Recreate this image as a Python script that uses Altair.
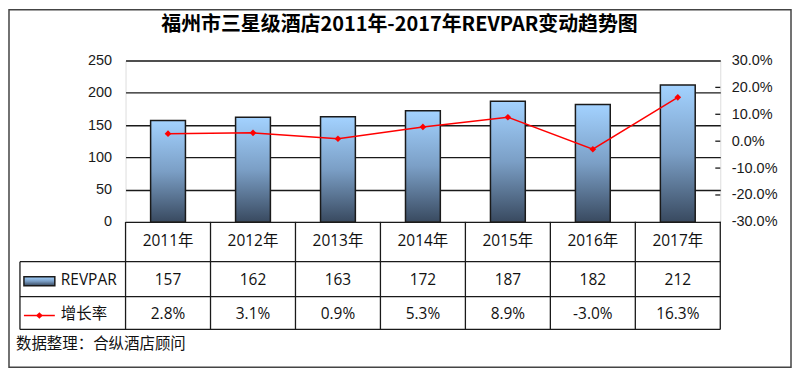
import altair as alt
import pandas as pd

# ---- data ----
years = ["2011年", "2012年", "2013年", "2014年", "2015年", "2016年", "2017年"]
revpar = [157, 162, 163, 172, 187, 182, 212]
growth_pct = [2.8, 3.1, 0.9, 5.3, 8.9, -3.0, 16.3]
left_ticks = [0, 50, 100, 150, 200, 250]
right_ticks = [-0.3, -0.2, -0.1, 0.0, 0.1, 0.2, 0.3]
inner_ticks = [-0.2, -0.1, 0.0, 0.1, 0.2]
title_text = "福州市三星级酒店2011年-2017年REVPAR变动趋势图"
footer_text = "数据整理：合纵酒店顾问"
series_bar = "REVPAR"
series_line = "增长率"

df = pd.DataFrame({
    "year": years,
    "revpar": revpar,
    "growth": [g / 100 for g in growth_pct],
    "growth_label": [f"{g:.1f}%" for g in growth_pct],
})
tick_df = pd.DataFrame({"t": inner_ticks})
one = pd.DataFrame({"k": [0]})

W, H = 597, 162
ROW1, ROW2, ROW3 = 202, 237, 270   # table horizontal lines (px below plot top)
LEFT = -106                         # legend column left edge
LINE = "#1a1a1a"

grad = alt.Gradient(
    gradient="linear",
    stops=[alt.GradientStop(color="#a3d2ff", offset=0),
           alt.GradientStop(color="#7b9fc6", offset=0.5),
           alt.GradientStop(color="#394a60", offset=1)],
    x1=0, x2=0, y1=0, y2=1,
)

xenc = alt.X("year:N", sort=years, axis=None,
             scale=alt.Scale(paddingInner=0, paddingOuter=0))

base = alt.Chart(df).encode(x=xenc)

bars = base.mark_bar(width=alt.RelativeBandSize(0.41), fill=grad,
                     stroke=LINE, strokeWidth=1.5).encode(
    y=alt.Y("revpar:Q", scale=alt.Scale(domain=[0, 250], nice=False),
            axis=alt.Axis(values=left_ticks, grid=True, gridColor=LINE,
                          gridWidth=1.3, domain=False, ticks=False,
                          labelPadding=14, labelFont="Liberation Sans",
                          labelFontSize=14.5, labelColor="#1a1a1a", title=None))
)

line = base.mark_line(color="#ff0000", strokeWidth=1.5,
                      point=alt.OverlayMarkDef(shape="diamond", size=45,
                                               color="#ff0000", filled=True)).encode(
    y=alt.Y("growth:Q", scale=alt.Scale(domain=[-0.3, 0.3], nice=False),
            axis=alt.Axis(orient="right", values=right_ticks, grid=False,
                          domain=False, ticks=False, labelPadding=11,
                          labelExpr="replace(format(datum.value, '.1%'), '\u2212', '-')",
                          labelFont="Liberation Sans", labelFontSize=14.5,
                          labelColor="#1a1a1a", title=None))
)

rticks = alt.Chart(tick_df).mark_rule(color=LINE, strokeWidth=1.3).encode(
    y=alt.Y("t:Q", scale=alt.Scale(domain=[-0.3, 0.3], nice=False), axis=None),
    x=alt.value(W - 5), x2=alt.value(W),
)

def hrule(y, x0):
    return alt.Chart(one).mark_rule(color=LINE, strokeWidth=1.3).encode(
        x=alt.value(x0), x2=alt.value(W), y=alt.value(y))

vrules = alt.Chart(df).mark_rule(color=LINE, strokeWidth=1.3).encode(
    x=alt.X("year:N", sort=years, axis=None, bandPosition=0,
            scale=alt.Scale(paddingInner=0, paddingOuter=0)),
    y=alt.value(H), y2=alt.value(ROW3))
vright = alt.Chart(one).mark_rule(color=LINE, strokeWidth=1.3).encode(
    x=alt.value(W), y=alt.value(H), y2=alt.value(ROW3))
vleft = alt.Chart(one).mark_rule(color=LINE, strokeWidth=1.3).encode(
    x=alt.value(LEFT), y=alt.value(ROW1), y2=alt.value(ROW3))

TFONT = "Open Sans, Noto Sans CJK SC"
def table_text(field, y):
    return base.mark_text(font=TFONT, fontSize=15.5, color="#111",
                          baseline="middle").encode(text=field, y=alt.value(y))

hdr = table_text("year:N", 181)
vals = table_text("revpar:Q", 220)
pcts = table_text("growth_label:N", 254)

leg_rect = alt.Chart(one).mark_rect(fill=grad, stroke=LINE, strokeWidth=1.5).encode(
    x=alt.value(-102), x2=alt.value(-71), y=alt.value(217), y2=alt.value(226))
leg_line = alt.Chart(one).mark_rule(color="#ff0000", strokeWidth=1.5).encode(
    x=alt.value(-102), x2=alt.value(-71), y=alt.value(256))
leg_pt = alt.Chart(one).mark_point(shape="diamond", size=45, color="#ff0000",
                                   filled=True, opacity=1).encode(
    x=alt.value(-86.5), y=alt.value(256))
leg_t1 = alt.Chart(one).mark_text(font=TFONT, fontSize=15.5, color="#111", align="left",
                                  baseline="middle").encode(
    x=alt.value(-65), y=alt.value(220), text=alt.value(series_bar))
leg_t2 = alt.Chart(one).mark_text(font=TFONT, fontSize=15.5, color="#111", align="left",
                                  baseline="middle").encode(
    x=alt.value(-65), y=alt.value(255), text=alt.value(series_line))

title = alt.Chart(one).mark_text(font="Noto Sans CJK SC", fontWeight="bold", fontSize=20,
                                 color="#000", align="center", baseline="middle").encode(
    x=alt.value(275), y=alt.value(-36), text=alt.value(title_text))
footer = alt.Chart(one).mark_text(font="Noto Sans CJK SC", fontSize=15.5, color="#111",
                                  align="left", baseline="middle").encode(
    x=alt.value(-110), y=alt.value(285), text=alt.value(footer_text))

border = alt.Chart(one).mark_rect(fill=None, stroke="#444", strokeWidth=1.5).encode(
    x=alt.value(-117), x2=alt.value(668), y=alt.value(-51), y2=alt.value(308))

chart = alt.layer(
    bars, line, rticks,
    hrule(ROW1, LEFT), hrule(ROW2, LEFT), hrule(ROW3, LEFT),
    vrules, vright, vleft,
    hdr, vals, pcts,
    leg_rect, leg_line, leg_pt, leg_t1, leg_t2,
    title, footer, border,
).resolve_scale(y="independent").properties(
    width=W, height=H, padding=0
).configure_view(stroke=LINE, strokeWidth=1.3).configure(background="white")

chart.save("out.html", embed_options={"renderer": "svg", "actions": False})
